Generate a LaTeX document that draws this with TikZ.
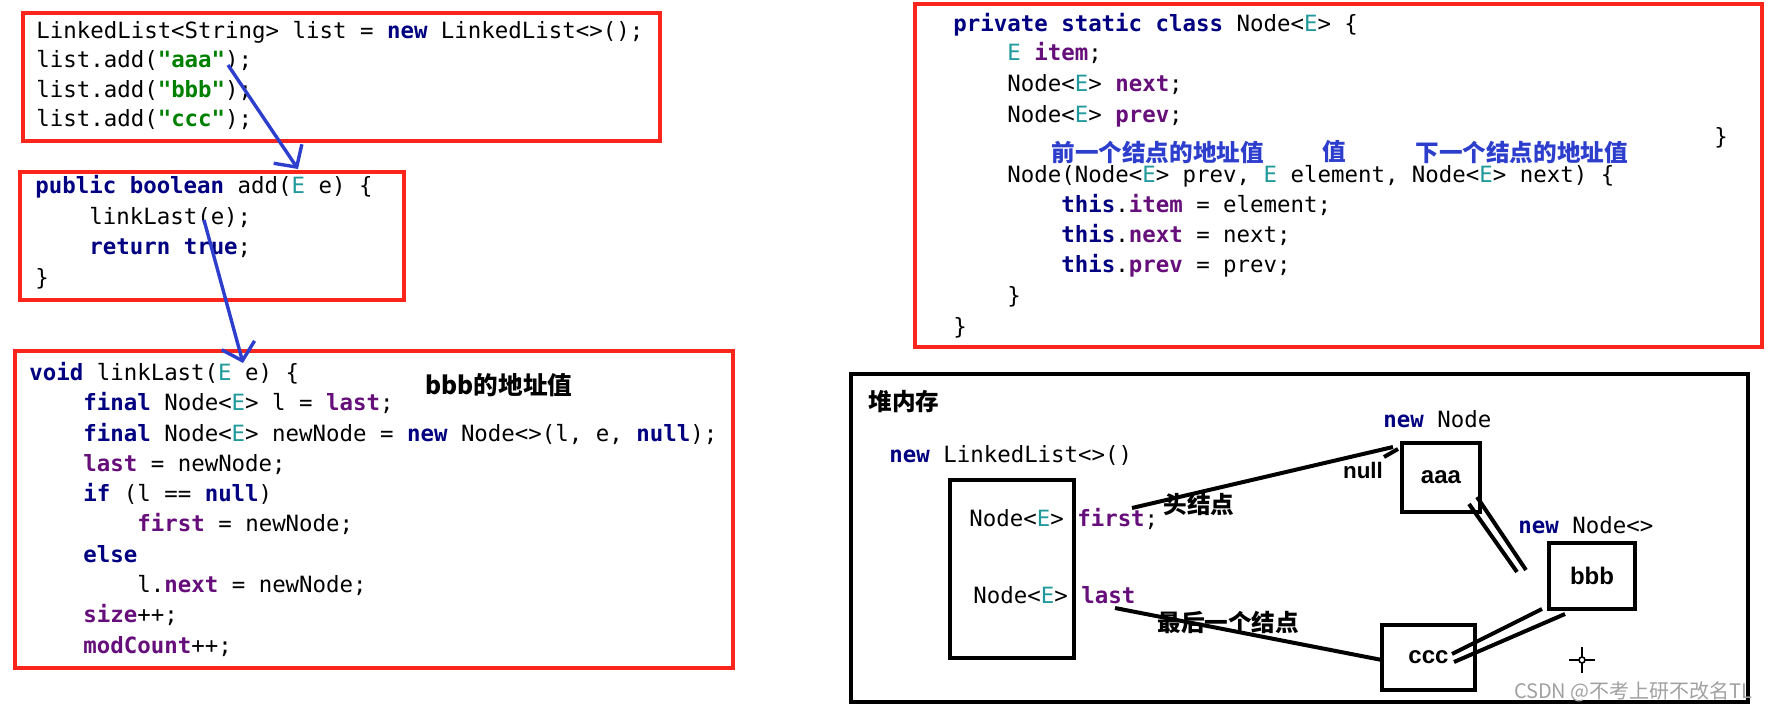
\documentclass[tikz,border=0pt]{standalone}
\usepackage{fontspec}
\usepackage{xcolor}
\setmonofont{DejaVu Sans Mono}
\newfontfamily\cjk{Noto Sans CJK SC}
\newfontfamily\lbl{Liberation Sans}
\usetikzlibrary{arrows.meta,positioning}

\definecolor{kwnavy}{RGB}{0,0,128}
\definecolor{fdpurple}{RGB}{102,14,122}
\definecolor{tpteal}{RGB}{32,153,157}
\definecolor{stgreen}{RGB}{0,128,0}
\definecolor{boxred}{RGB}{250,38,28}
\definecolor{inkblue}{RGB}{45,62,205}
\definecolor{markgray}{RGB}{160,160,160}

\newcommand{\jkw}[1]{{\bfseries\color{kwnavy}#1}}
\newcommand{\jfd}[1]{{\bfseries\color{fdpurple}#1}}
\newcommand{\jE}{{\color{tpteal}E}}
\newcommand{\jstr}[1]{{\bfseries\color{stgreen}"#1"}}

\begin{document}
\begin{tikzpicture}[
  x=0.5pt, y=-0.5pt,
  code/.style={anchor=base west, inner sep=0pt, font=\ttfamily\fontsize{11.2}{14}\selectfont},
  note/.style={anchor=west, inner sep=0pt, font=\cjk\bfseries\fontsize{11.8}{14}\selectfont},
  redbox/.style={draw=boxred, line width=2pt, anchor=north west, inner sep=0pt},
  cell/.style={draw, line width=2pt, anchor=north west, inner sep=0pt, font=\lbl\bfseries\fontsize{12}{14}\selectfont},
  penline/.style={inkblue, line width=1.7pt, -{Straight Barb[length=8pt,width=17pt]}},
  heaplink/.style={line width=2pt}
]
\useasboundingbox (0,0) rectangle (1768,712);

% code boxes
\node[redbox, minimum width=318.5pt, minimum height=64pt] (mainbox) at (21,11) {};
\node[redbox, minimum width=192pt, minimum height=64pt] (addbox) at (18,170) {};
\node[redbox, minimum width=359pt, minimum height=158.5pt] (linkbox) at (13,349) {};
\node[redbox, minimum width=423.5pt, minimum height=171.5pt] (classbox) at (913,2) {};

\node[code] (m1) at (36,39) {LinkedList<String> list = \jkw{new} LinkedList<>();};
\node[code] (m2) at (36,68) {list.add(\jstr{aaa});};
\node[code] (m3) at (36,97) {list.add(\jstr{bbb});};
\node[code] (m4) at (36,126) {list.add(\jstr{ccc});};

\node[code] (a1) at (35,193) {\jkw{public boolean} add(\jE{} e) \{};
\node[code] (a2) at (89,224) {linkLast(e);};
\node[code] (a3) at (89,254) {\jkw{return true};};
\node[code] (a4) at (35,285) {\}};

\node[code] (k1) at (29,380) {\jkw{void} linkLast(\jE{} e) \{};
\node[code] (k2) at (83,410) {\jkw{final} Node<\jE> l = \jfd{last};};
\node[code] (k3) at (83,441) {\jkw{final} Node<\jE> newNode = \jkw{new} Node<>(l, e, \jkw{null});};
\node[code] (k4) at (83,471) {\jfd{last} = newNode;};
\node[code] (k5) at (83,501) {\jkw{if} (l == \jkw{null})};
\node[code] (k6) at (137,531) {\jfd{first} = newNode;};
\node[code] (k7) at (83,562) {\jkw{else}};
\node[code] (k8) at (137,592) {l.\jfd{next} = newNode;};
\node[code] (k9) at (83,622) {\jfd{size}++;};
\node[code] (k10) at (83,653) {\jfd{modCount}++;};
\node[note, font=\cjk\bfseries\fontsize{12.3}{14}\selectfont] (bbbaddr) at (425,385) {bbb的地址值};

\node[code] (c1) at (953,32) {\jkw{private static class} Node<\jE> \{};
\node[code] (c2) at (1007,61) {\jE{} \jfd{item};};
\node[code] (c3) at (1007,91) {Node<\jE> \jfd{next};};
\node[code] (c4) at (1007,122) {Node<\jE> \jfd{prev};};
\node[code] (c5) at (1007,182) {Node(Node<\jE> prev, \jE{} element, Node<\jE> next) \{};
\node[code] (c6) at (1061,212) {\jkw{this}.\jfd{item} = element;};
\node[code] (c7) at (1061,242) {\jkw{this}.\jfd{next} = next;};
\node[code] (c8) at (1061,272) {\jkw{this}.\jfd{prev} = prev;};
\node[code] (c9) at (1007,303) {\}};
\node[code] (c10) at (953,334) {\}};
\node[code, anchor=center] (cstray) at (1721,138) {\}};

\node[note, inkblue] (prevnote) at (1051,152) {前一个结点的地址值};
\node[note, inkblue] (itemnote) at (1322,152) {值};
\node[note, inkblue] (nextnote) at (1415,152) {下一个结点的地址值};

% blue pen arrows
\coordinate (penA) at (228,65);
\coordinate (penAend) at (298,169);
\coordinate (penB) at (204,220);
\coordinate (penBend) at (243,363);
\draw[penline] (penA) -- (penAend);
\draw[penline] (penB) -- (penBend);

% heap
\node[draw, line width=2pt, anchor=north west, inner sep=0pt,
      minimum width=448.5pt, minimum height=164pt] (heap) at (849,372) {};
\node[note] (heapnote) at (868,402) {堆内存};
\node[code] (newlist) at (889,462) {\jkw{new} LinkedList<>()};
\node[cell, minimum width=62pt, minimum height=89pt] (list) at (948,478) {};
\node[code] (first) at (969,526) {Node<\jE> \jfd{first};};
\node[code] (last) at (973,603) {Node<\jE> \jfd{last}};

\node[code] (newaaa) at (1383,427) {\jkw{new} Node};
\node[code] (newbbb) at (1518,533) {\jkw{new} Node<>};
\node[cell, minimum width=39pt, minimum height=34.5pt] (aaa) at (1400,441) {aaa};
\node[cell, minimum width=43pt, minimum height=33pt] (bbb) at (1547,541) {bbb};
\node[cell, minimum width=46.5pt, minimum height=32.5pt] (ccc) at (1380,623) {ccc};
\node[inner sep=0pt, font=\lbl\bfseries\fontsize{11.2}{14}\selectfont] (nullnote) at (1363,470) {null};

\node[note] (headnote) at (1163,504) {头结点};
\node[note] (tailnote) at (1157,622) {最后一个结点};

\coordinate (firstptr) at (1132,508);
\coordinate (lastptr) at (1115,608);
\draw[heaplink] (firstptr) -- ([xshift=-3.5pt,yshift=-3pt]aaa.north west);
\draw[heaplink] ([xshift=-8pt,yshift=-8pt]aaa.north west) -- ([xshift=-1pt,yshift=-4pt]aaa.north west);
\draw[heaplink] ([xshift=-6.5pt,yshift=5pt]aaa.south east) -- ([xshift=-15pt,yshift=2pt]bbb.west);
\draw[heaplink] ([xshift=-2.5pt,yshift=8.5pt]aaa.south east) -- ([xshift=-10.5pt,yshift=3pt]bbb.west);
\draw[heaplink] ([xshift=-2.5pt,yshift=1pt]bbb.south west) -- ([xshift=-12.5pt,yshift=1.75pt]ccc.east);
\draw[heaplink] ([xshift=9pt,yshift=-1.5pt]bbb.south west) -- ([xshift=-11.5pt,yshift=-2.25pt]ccc.east);
\draw[heaplink] (lastptr) -- ([xshift=1pt,yshift=-1.25pt]ccc.west);

% cursor mark
\coordinate (cursor) at (1582,660);
\draw[line width=0.8pt] (cursor) circle (3);
\draw[line width=0.8pt] ([xshift=-6.5pt]cursor) -- ([xshift=-1.5pt]cursor)
  ([xshift=1.5pt]cursor) -- ([xshift=6.5pt]cursor)
  ([yshift=6.5pt]cursor) -- ([yshift=1.5pt]cursor)
  ([yshift=-1.5pt]cursor) -- ([yshift=-6.5pt]cursor);

\node[anchor=east, inner sep=0pt, markgray, font=\cjk\fontsize{10}{12}\selectfont] (mark) at (1753,692) {CSDN @不考上研不改名TL};

\end{tikzpicture}
\end{document}
